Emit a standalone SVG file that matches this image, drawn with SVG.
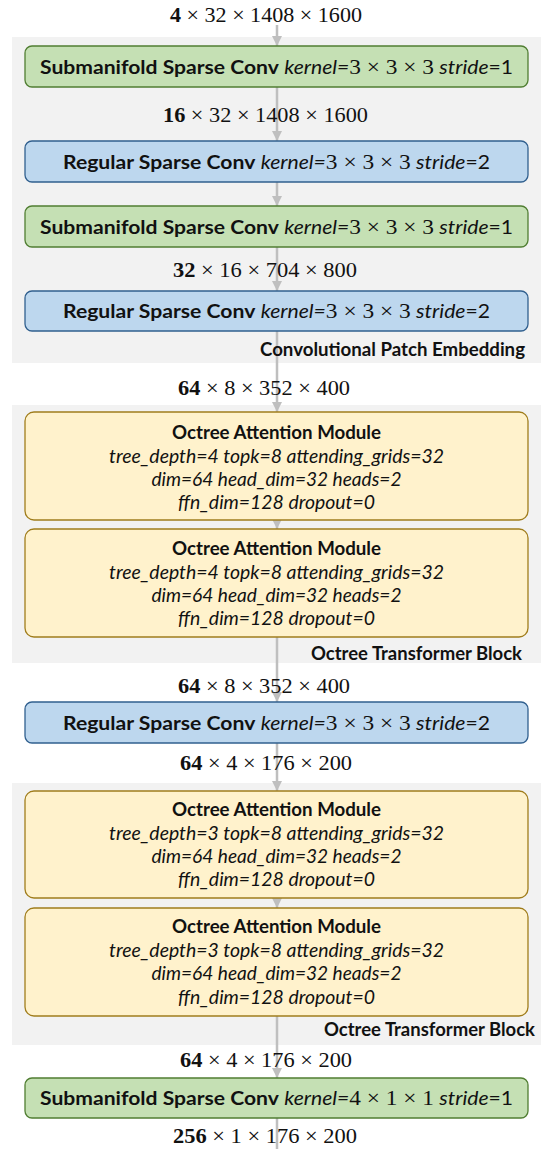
<svg xmlns="http://www.w3.org/2000/svg" width="542" height="1149" viewBox="0 0 542 1149">
<style>
.panel{fill:#f2f2f2}
.green{fill:#c5e0b4;stroke:#507e32;stroke-width:1.3}
.blue{fill:#bdd7ee;stroke:#31608f;stroke-width:1.3}
.yellow{fill:#fff2cc;stroke:#a07d1c;stroke-width:1.3}
.conn{stroke:#bfbfbf;stroke-width:2.5;fill:none}
.t{font-family:Lato,"Open Sans","Liberation Sans",sans-serif;font-size:19px;fill:#111}
.b{font-weight:bold}
.i{font-style:italic}
.m{font-family:"Liberation Serif","DejaVu Serif",serif;font-size:21px;fill:#111}
.dim{font-family:"Liberation Serif","DejaVu Serif",serif;font-size:21px;fill:#111}
.pl{font-family:Lato,"Open Sans","Liberation Sans",sans-serif;font-size:18.5px;font-weight:bold;fill:#111}
</style>
<defs>
<marker id="ah" viewBox="0 0 10 10" refX="10" refY="5" markerWidth="4" markerHeight="4" orient="auto" markerUnits="strokeWidth">
<path d="M0,0 L10,5 L0,10 z" fill="#bfbfbf"/>
</marker>
</defs>
<g id="panels">
<rect class="panel" x="12" y="37" width="529" height="326"/>
<rect class="panel" x="12" y="405" width="529" height="258"/>
<rect class="panel" x="12" y="783" width="529" height="262"/>
</g>
<g id="connectors">
<line class="conn" x1="277" y1="25" x2="277" y2="46" marker-end="url(#ah)"/>
<line class="conn" x1="277" y1="87" x2="277" y2="141" marker-end="url(#ah)"/>
<line class="conn" x1="277" y1="182" x2="277" y2="206" marker-end="url(#ah)"/>
<line class="conn" x1="277" y1="247" x2="277" y2="291" marker-end="url(#ah)"/>
<line class="conn" x1="277" y1="331" x2="277" y2="412" marker-end="url(#ah)"/>
<line class="conn" x1="277" y1="520" x2="277" y2="529" marker-end="url(#ah)"/>
<line class="conn" x1="277" y1="637" x2="277" y2="702" marker-end="url(#ah)"/>
<line class="conn" x1="277" y1="743" x2="277" y2="791" marker-end="url(#ah)"/>
<line class="conn" x1="277" y1="898" x2="277" y2="908" marker-end="url(#ah)"/>
<line class="conn" x1="277" y1="1016" x2="277" y2="1078" marker-end="url(#ah)"/>
<line class="conn" x1="277" y1="1118" x2="277" y2="1149"/>
</g>
<g id="dims">
<text class="dim" x="266" y="22" text-anchor="middle" textLength="192" lengthAdjust="spacingAndGlyphs"><tspan font-weight="bold">4</tspan> × 32 × 1408 × 1600</text>
<text class="dim" x="265.5" y="122" text-anchor="middle" textLength="205" lengthAdjust="spacingAndGlyphs"><tspan font-weight="bold">16</tspan> × 32 × 1408 × 1600</text>
<text class="dim" x="265" y="277" text-anchor="middle" textLength="184" lengthAdjust="spacingAndGlyphs"><tspan font-weight="bold">32</tspan> × 16 × 704 × 800</text>
<text class="dim" x="264" y="395" text-anchor="middle" textLength="172" lengthAdjust="spacingAndGlyphs"><tspan font-weight="bold">64</tspan> × 8 × 352 × 400</text>
<text class="dim" x="264" y="693" text-anchor="middle" textLength="172" lengthAdjust="spacingAndGlyphs"><tspan font-weight="bold">64</tspan> × 8 × 352 × 400</text>
<text class="dim" x="266" y="770" text-anchor="middle" textLength="172" lengthAdjust="spacingAndGlyphs"><tspan font-weight="bold">64</tspan> × 4 × 176 × 200</text>
<text class="dim" x="266" y="1067" text-anchor="middle" textLength="172" lengthAdjust="spacingAndGlyphs"><tspan font-weight="bold">64</tspan> × 4 × 176 × 200</text>
<text class="dim" x="265" y="1143" font-size="20" text-anchor="middle" textLength="184" lengthAdjust="spacingAndGlyphs"><tspan font-weight="bold">256</tspan> × 1 × 176 × 200</text>
</g>
<g id="panel-labels">
<text class="pl" x="525" y="356" text-anchor="end" textLength="265" lengthAdjust="spacingAndGlyphs">Convolutional Patch Embedding</text>
<text class="pl" x="522" y="660" text-anchor="end" textLength="211" lengthAdjust="spacingAndGlyphs">Octree Transformer Block</text>
<text class="pl" x="535" y="1036" text-anchor="end" textLength="211" lengthAdjust="spacingAndGlyphs">Octree Transformer Block</text>
</g>
<g id="node1">
<rect class="green" x="25" y="46" width="503" height="41" rx="7"/>
<text class="t" x="276.5" y="74" text-anchor="middle" textLength="473" lengthAdjust="spacingAndGlyphs"><tspan class="b">Submanifold Sparse Conv</tspan> <tspan class="i">kernel=</tspan><tspan class="m">3 × 3 × 3</tspan> <tspan class="i">stride</tspan>=1</text>
</g>
<g id="node2">
<rect class="blue" x="25" y="141" width="503" height="41" rx="7"/>
<text class="t" x="276.5" y="169" text-anchor="middle" textLength="427" lengthAdjust="spacingAndGlyphs"><tspan class="b">Regular Sparse Conv</tspan> <tspan class="i">kernel=</tspan><tspan class="m">3 × 3 × 3</tspan> <tspan class="i">stride</tspan>=2</text>
</g>
<g id="node3">
<rect class="green" x="25" y="206" width="503" height="41" rx="7"/>
<text class="t" x="276.5" y="234" text-anchor="middle" textLength="473" lengthAdjust="spacingAndGlyphs"><tspan class="b">Submanifold Sparse Conv</tspan> <tspan class="i">kernel=</tspan><tspan class="m">3 × 3 × 3</tspan> <tspan class="i">stride</tspan>=1</text>
</g>
<g id="node4">
<rect class="blue" x="25" y="291" width="503" height="40" rx="7"/>
<text class="t" x="276.5" y="318" text-anchor="middle" textLength="427" lengthAdjust="spacingAndGlyphs"><tspan class="b">Regular Sparse Conv</tspan> <tspan class="i">kernel=</tspan><tspan class="m">3 × 3 × 3</tspan> <tspan class="i">stride</tspan>=2</text>
</g>
<g id="node5">
<rect class="yellow" x="25" y="412" width="503" height="108" rx="9"/>
<text class="t b" x="276.5" y="439" text-anchor="middle" textLength="209" lengthAdjust="spacingAndGlyphs">Octree Attention Module</text>
<text class="t i" x="276.5" y="463" text-anchor="middle" textLength="335" lengthAdjust="spacingAndGlyphs">tree_depth=4 topk=8 attending_grids=32</text>
<text class="t i" x="276.5" y="486" text-anchor="middle" textLength="250" lengthAdjust="spacingAndGlyphs">dim=64 head_dim=32 heads=2</text>
<text class="t i" x="276.5" y="509" text-anchor="middle" textLength="197" lengthAdjust="spacingAndGlyphs">ffn_dim=128 dropout=0</text>
</g>
<g id="node6">
<rect class="yellow" x="25" y="529" width="503" height="108" rx="9"/>
<text class="t b" x="276.5" y="555" text-anchor="middle" textLength="209" lengthAdjust="spacingAndGlyphs">Octree Attention Module</text>
<text class="t i" x="276.5" y="579" text-anchor="middle" textLength="335" lengthAdjust="spacingAndGlyphs">tree_depth=4 topk=8 attending_grids=32</text>
<text class="t i" x="276.5" y="602" text-anchor="middle" textLength="250" lengthAdjust="spacingAndGlyphs">dim=64 head_dim=32 heads=2</text>
<text class="t i" x="276.5" y="625" text-anchor="middle" textLength="197" lengthAdjust="spacingAndGlyphs">ffn_dim=128 dropout=0</text>
</g>
<g id="node7">
<rect class="blue" x="25" y="702" width="503" height="41" rx="7"/>
<text class="t" x="276.5" y="730" text-anchor="middle" textLength="427" lengthAdjust="spacingAndGlyphs"><tspan class="b">Regular Sparse Conv</tspan> <tspan class="i">kernel=</tspan><tspan class="m">3 × 3 × 3</tspan> <tspan class="i">stride</tspan>=2</text>
</g>
<g id="node8">
<rect class="yellow" x="25" y="791" width="503" height="107" rx="9"/>
<text class="t b" x="276.5" y="816" text-anchor="middle" textLength="209" lengthAdjust="spacingAndGlyphs">Octree Attention Module</text>
<text class="t i" x="276.5" y="840" text-anchor="middle" textLength="335" lengthAdjust="spacingAndGlyphs">tree_depth=3 topk=8 attending_grids=32</text>
<text class="t i" x="276.5" y="863" text-anchor="middle" textLength="250" lengthAdjust="spacingAndGlyphs">dim=64 head_dim=32 heads=2</text>
<text class="t i" x="276.5" y="886" text-anchor="middle" textLength="197" lengthAdjust="spacingAndGlyphs">ffn_dim=128 dropout=0</text>
</g>
<g id="node9">
<rect class="yellow" x="25" y="908" width="503" height="108" rx="9"/>
<text class="t b" x="276.5" y="933" text-anchor="middle" textLength="209" lengthAdjust="spacingAndGlyphs">Octree Attention Module</text>
<text class="t i" x="276.5" y="957" text-anchor="middle" textLength="335" lengthAdjust="spacingAndGlyphs">tree_depth=3 topk=8 attending_grids=32</text>
<text class="t i" x="276.5" y="980" text-anchor="middle" textLength="250" lengthAdjust="spacingAndGlyphs">dim=64 head_dim=32 heads=2</text>
<text class="t i" x="276.5" y="1004" text-anchor="middle" textLength="197" lengthAdjust="spacingAndGlyphs">ffn_dim=128 dropout=0</text>
</g>
<g id="node10">
<rect class="green" x="25" y="1078" width="503" height="40" rx="7"/>
<text class="t" x="276.5" y="1105" text-anchor="middle" textLength="473" lengthAdjust="spacingAndGlyphs"><tspan class="b">Submanifold Sparse Conv</tspan> <tspan class="i">kernel=</tspan><tspan class="m">4 × 1 × 1</tspan> <tspan class="i">stride</tspan>=1</text>
</g>
</svg>
